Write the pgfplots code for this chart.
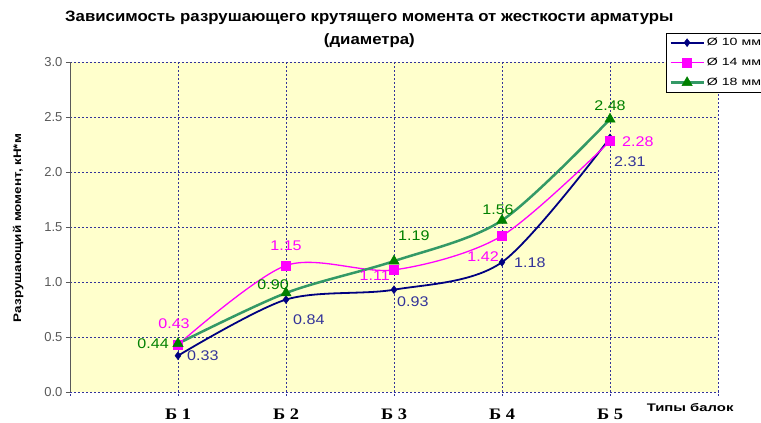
\documentclass[border=0pt]{standalone}
\usepackage{pgfplots}
\pgfplotsset{compat=1.18}
\usepackage{fontspec}
\setmainfont{Liberation Sans}
\newfontfamily\wfont[FakeStretch=1.15]{Liberation Sans}
\newfontfamily\tifont[FakeStretch=1.12]{Liberation Sans}
\newfontfamily\yfont[FakeStretch=1.22]{Liberation Sans}
\newfontfamily\wwfont[FakeStretch=1.35]{Liberation Sans}
\newfontfamily\tfont[FakeStretch=1.15]{Liberation Serif}
\definecolor{bg}{HTML}{FFFFCC}
\definecolor{navyc}{HTML}{000080}
\definecolor{navyl}{HTML}{333399}
\definecolor{magc}{HTML}{FF00FF}
\definecolor{greenm}{HTML}{008000}
\definecolor{greenl}{HTML}{339966}
\definecolor{gridc}{HTML}{333399}

\pgfplotsset{lbl/.style n args={3}{
  forget plot, only marks, mark=none,
  nodes near coords={\pgfmathprintnumber[fixed,fixed zerofill,precision=2,assume math mode=true]{\pgfplotspointmeta}},
  every node near coord/.append style={anchor=#2, font=\wfont\fontsize{14}{16}\selectfont, inner sep=3pt, text=#1, #3},
}}

\begin{document}
\begin{tikzpicture}
\useasboundingbox (-70pt,-31pt) rectangle (691pt,392pt);
\begin{axis}[
  scale only axis, width=648pt, height=330pt,
  xmin=0, xmax=6, ymin=0, ymax=3,
  axis background/.style={fill=bg},
  xtick={0,...,6},
  xticklabels={,Б 1,Б 2,Б 3,Б 4,Б 5,},
  xticklabel style={font=\tfont\bfseries\fontsize{16}{18}\selectfont, yshift=-9pt},
  ytick={0,0.5,...,3},
  yticklabel style={font=\fontsize{13}{15}\selectfont, text=gray!70!black,
     /pgf/number format/.cd, fixed, fixed zerofill, precision=1, assume math mode=true},
  axis y line*=left, axis x line*=bottom,
  x axis line style={draw=none},
  y axis line style={draw=gray!70!black, line width=0.8pt},
  tick align=outside,
  major tick length=4pt,
  y tick style={draw=gray!70!black},
  x tick style={draw=gridc, dash pattern=on 1.5pt off 1.5pt},
  grid=major,
  grid style={draw=gridc, line width=0.6pt, dash pattern=on 2pt off 2pt},
  xlabel={Типы балок},
  xlabel style={at={(axis description cs:0.957,-0.048)}, anchor=center, font=\wwfont\bfseries\fontsize{11}{13}\selectfont},
  ylabel={Разрушающий момент, кН*м},
  ylabel style={at={(axis description cs:-0.080,0.497)}, anchor=center, font=\yfont\bfseries\fontsize{11}{13}\selectfont},
  title={Зависимость разрушающего крутящего момента от жесткости арматуры\\(диаметра)},
  title style={at={(axis description cs:0.462,1)}, anchor=south, yshift=5pt, align=center, font=\tifont\bfseries\fontsize{15}{23}\selectfont},
  legend style={at={(axis description cs:0.92,1.088)}, anchor=north west,
     font=\wwfont\fontsize{10.5}{12}\selectfont, draw=black, fill=white, inner sep=3pt,
     row sep=7pt},
  legend image code/.code={\draw[mark repeat=2,mark phase=2] plot coordinates {(0pt,0pt) (16.5pt,0pt) (33pt,0pt)};},
  legend cell align=left,
  clip=false,
]
\addplot[smooth, color=navyc, line width=1.8pt, mark=diamond*, mark size=4pt,
  mark options={fill=navyc, line width=0.4pt}] coordinates {(1,0.33) (2,0.84) (3,0.93) (4,1.18) (5,2.31)};
\addlegendentry{Ø 10 мм}
\addplot[smooth, color=magc, line width=1.3pt, mark=square*, mark size=4.5pt,
  mark options={fill=magc, line width=0.4pt}] coordinates {(1,0.43) (2,1.15) (3,1.11) (4,1.42) (5,2.28)};
\addlegendentry{Ø 14 мм}
\addplot[smooth, color=greenl, line width=2.5pt, mark=triangle*, mark size=6pt,
  mark options={fill=greenm, draw=greenm, line width=0.4pt}] coordinates {(1,0.44) (2,0.90) (3,1.19) (4,1.56) (5,2.48)};
\addlegendentry{Ø 18 мм}
% labels
\addplot[lbl={navyl}{west}{xshift=6pt}] coordinates {(1,0.33)};
\addplot[lbl={navyl}{west}{xshift=9pt}] coordinates {(4,1.18)};
\addplot[lbl={navyl}{north west}{xshift=4pt,yshift=-12pt}] coordinates {(2,0.84)};
\addplot[lbl={navyl}{north west}{xshift=0pt,yshift=-4pt}] coordinates {(3,0.93)};
\addplot[lbl={navyl}{north west}{xshift=1pt,yshift=-16pt}] coordinates {(5,2.31)};
\addplot[lbl={magc}{south}{xshift=-4pt,yshift=13pt}] coordinates {(1,0.43)};
\addplot[lbl={magc}{south}{yshift=12pt}] coordinates {(2,1.15)};
\addplot[lbl={magc}{north east}{xshift=-1pt,yshift=2pt}] coordinates {(3,1.11)};
\addplot[lbl={magc}{north east}{xshift=0pt,yshift=-13pt}] coordinates {(4,1.42)};
\addplot[lbl={magc}{west}{xshift=9pt}] coordinates {(5,2.28)};
\addplot[lbl={greenm}{east}{xshift=-6pt}] coordinates {(1,0.44)};
\addplot[lbl={greenm}{south east}{xshift=6pt}] coordinates {(2,0.90)};
\addplot[lbl={greenm}{south west}{xshift=1pt,yshift=17pt}] coordinates {(3,1.19)};
\addplot[lbl={greenm}{south}{xshift=-4pt,yshift=3pt}] coordinates {(4,1.56)};
\addplot[lbl={greenm}{south}{yshift=5pt}] coordinates {(5,2.48)};
\end{axis}
\end{tikzpicture}
\end{document}
